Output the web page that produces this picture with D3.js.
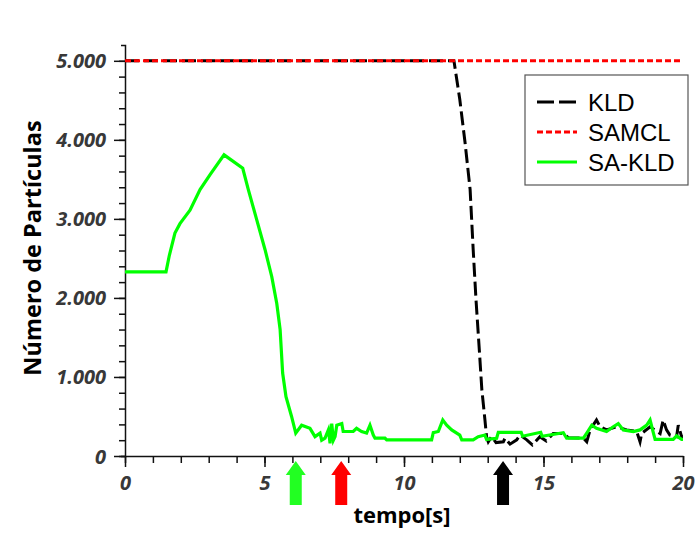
<!DOCTYPE html>
<html>
<head>
<meta charset="utf-8">
<script src="https://cdn.jsdelivr.net/npm/d3@7"></script>
<style>
  body { margin: 0; background: #fff; }
  .tick text { font-family: "Open Sans", sans-serif; font-weight: bold; font-style: italic; }
</style>
</head>
<body>
<div id="root"></div>
<script>
// data
var kldT = [0, 11.79, 12.0, 12.19, 12.37, 12.48, 12.58, 12.7, 12.79, 12.9, 12.96, 13.02, 13.14, 13.3, 13.56, 13.62, 13.8, 14.04, 14.16, 14.4, 14.6, 14.87, 15.1, 15.35, 15.71, 15.9, 16.43, 16.55, 16.67, 16.9, 17.03, 17.26, 17.62, 17.98, 18.34, 18.46, 18.52, 18.82, 19.18, 19.29, 19.41, 19.53, 19.77, 19.83, 19.95, 20]
var kldN = [5000, 5000, 4510, 3960, 3370, 2610, 1980, 1340, 840, 460, 240, 180, 245, 170, 180, 225, 150, 205, 265, 205, 140, 245, 190, 285, 285, 230, 225, 180, 330, 455, 370, 330, 370, 330, 310, 180, 285, 370, 285, 455, 330, 265, 245, 390, 245, 245]

var samclT = [0, 20]
var samclN = [5000, 5000]

var sakldT = [0, 1.47, 1.59, 1.79, 1.97, 2.33, 2.69, 3.05, 3.55, 4.22, 4.42, 4.72, 5.02, 5.26, 5.44, 5.56, 5.65, 5.77, 5.97, 6.12, 6.33, 6.63, 6.81, 6.99, 7.05, 7.17, 7.29, 7.35, 7.41, 7.47, 7.53, 7.59, 7.77, 7.82, 8.18, 8.30, 8.48, 8.66, 8.78, 8.9, 8.96, 9.32, 9.38, 10.99, 11.05, 11.23, 11.39, 11.53, 11.71, 12.0, 12.07, 12.48, 12.66, 12.9, 12.96, 13.32, 13.38, 14.2, 14.25, 14.9, 14.95, 15.71, 15.83, 16.43, 16.55, 16.73, 16.9, 17.26, 17.5, 17.68, 17.86, 18.22, 18.46, 18.7, 18.82, 18.94, 19.0, 19.65, 19.77, 19.95, 20]
var sakldN = [2330, 2330, 2540, 2820, 2940, 3110, 3370, 3560, 3810, 3640, 3370, 2990, 2610, 2270, 1930, 1600, 1050, 750, 500, 290, 390, 350, 245, 290, 200, 225, 330, 160, 410, 200, 245, 390, 410, 310, 310, 350, 310, 290, 390, 265, 225, 225, 205, 205, 295, 310, 455, 390, 330, 265, 205, 205, 245, 265, 210, 225, 300, 300, 250, 300, 250, 295, 225, 225, 290, 390, 350, 310, 370, 410, 330, 310, 330, 390, 455, 290, 210, 210, 255, 210, 210]

var seriesNames = ["KLD", "SAMCL", "SA-KLD"]
var seriesColors = ["#000000", "#ff0000", "#00ff00"]

var xTicks = [0, 5, 10, 15, 20]
var yTicks = [0, 1000, 2000, 3000, 4000, 5000]
var yTickLabels = ["0", "1.000", "2.000", "3.000", "4.000", "5.000"]

// arrows under the x axis (time in s)
var arrowT = [6.12, 7.75, 13.55]
var arrowColors = ["#22ff22", "#ff0000", "#000000"]

// set the dimensions and margins of the graph
var margin = {top: 45, right: 13, bottom: 78, left: 125}
var width = 696 - margin.left - margin.right
var height = 534 - margin.top - margin.bottom

var svg = d3.select("#root")
            .append("svg")
            .attr("width", 696)
            .attr("height", 534)
            .append("g")
            .attr("transform", "translate(" + margin.left + "," + margin.top + ")");

var x = d3.scaleLinear().domain([0, 20]).range([0, width])
var y = d3.scaleLinear().domain([0, 5200]).range([height, 0])

// minor ticks first, then major axis with labels
svg.append("g")
    .attr("transform", "translate(0," + height + ")")
    .call(d3.axisBottom(x).tickValues(d3.range(0, 21, 1)).tickSize(7).tickFormat(""))
    .call(function(g){ g.select(".domain").remove() })
svg.append("g")
    .attr("transform", "translate(0," + height + ")")
    .call(d3.axisBottom(x).tickValues(xTicks).tickSize(11).tickSizeOuter(0).tickPadding(9))
    .call(function(g){
      g.selectAll("text").attr("font-size", 20).attr("fill", "#383838")
    })

svg.append("g")
    .call(d3.axisLeft(y).tickValues(d3.range(0, 5001, 200)).tickSize(6).tickFormat(""))
    .call(function(g){ g.select(".domain").remove() })
svg.append("g")
    .call(d3.axisLeft(y).tickValues(yTicks).tickSize(11).tickSizeOuter(4).tickPadding(8)
            .tickFormat(function(d, i){ return yTickLabels[i] }))
    .call(function(g){
      g.selectAll("text").attr("font-size", 20).attr("fill", "#383838").attr("dy", "0.35em")
    })

svg.selectAll(".domain, .tick line").attr("stroke", "#111").attr("stroke-width", 1.5)

// lines
var line = d3.line()
    .x(function(d){ return x(d[0]) })
    .y(function(d){ return y(d[1]) })

svg.append("path")
    .datum(d3.zip(kldT, kldN))
    .attr("d", line)
    .attr("fill", "none")
    .attr("stroke", seriesColors[0])
    .attr("stroke-width", 3)
    .attr("stroke-dasharray", "14,5")

svg.append("path")
    .datum(d3.zip(samclT, samclN))
    .attr("d", line)
    .attr("fill", "none")
    .attr("stroke", seriesColors[1])
    .attr("stroke-width", 3)
    .attr("stroke-dasharray", "6,3")

svg.append("path")
    .datum(d3.zip(sakldT, sakldN))
    .attr("d", line)
    .attr("fill", "none")
    .attr("stroke", seriesColors[2])
    .attr("stroke-width", 3.2)

// arrows
svg.selectAll("arrow")
    .data(arrowT)
    .enter()
    .append("path")
      .attr("d", function(d){
        var cx = x(d), top = height + 5
        return "M" + cx + "," + top +
               "L" + (cx + 10) + "," + (top + 14) +
               "L" + (cx + 6) + "," + (top + 14) +
               "L" + (cx + 6) + "," + (top + 44) +
               "L" + (cx - 6) + "," + (top + 44) +
               "L" + (cx - 6) + "," + (top + 14) +
               "L" + (cx - 10) + "," + (top + 14) + "Z"
      })
      .attr("fill", function(d, i){ return arrowColors[i] })

// axis titles
svg.append("text")
    .attr("x", 402 - margin.left)
    .attr("y", height + 67)
    .attr("text-anchor", "middle")
    .attr("font-family", "Open Sans, sans-serif")
    .attr("font-weight", "bold")
    .attr("font-size", 22)
    .text("tempo[s]")

svg.append("text")
    .attr("transform", "translate(" + (41 - margin.left) + "," + (248 - margin.top) + ") rotate(-90)")
    .attr("text-anchor", "middle")
    .attr("font-family", "Open Sans, sans-serif")
    .attr("font-weight", "bold")
    .attr("font-size", 23.5)
    .text("Número de Partículas")

// legend
var legend = svg.append("g").attr("transform", "translate(" + (525 - margin.left) + "," + (75 - margin.top) + ")")
legend.append("rect")
    .attr("width", 163)
    .attr("height", 110)
    .attr("fill", "#fff")
    .attr("stroke", "#555")
    .attr("stroke-width", 1.2)

var dashes = ["17,5", "6,3", null]
seriesNames.forEach(function(name, i){
  var ly = 27 + i * 30
  legend.append("line")
      .attr("x1", 12).attr("x2", 52)
      .attr("y1", ly).attr("y2", ly)
      .attr("stroke", seriesColors[i])
      .attr("stroke-width", 3)
      .attr("stroke-dasharray", dashes[i])
  legend.append("text")
      .attr("x", 63)
      .attr("y", ly)
      .attr("dy", "0.36em")
      .attr("font-family", "Liberation Sans, sans-serif")
      .attr("font-size", 24)
      .text(name)
})
</script>
</body>
</html>
